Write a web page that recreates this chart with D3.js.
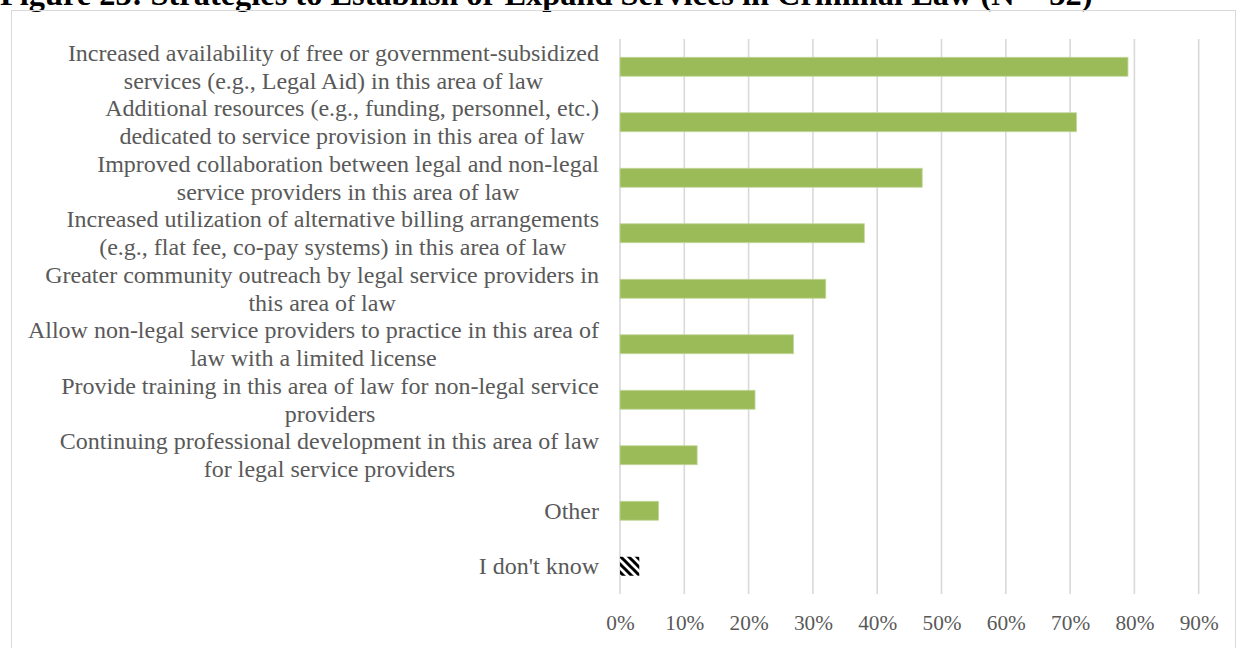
<!DOCTYPE html>
<html>
<head>
<meta charset="utf-8">
<script src="https://cdn.jsdelivr.net/npm/d3@7"></script>
<style>
  body { margin: 0; background: #fff; }
  svg { display: block; }
</style>
</head>
<body>
<svg id="chart" width="1237" height="648"></svg>
<script>
// Figure title and response categories (line breaks as wrapped in the figure)
const title = "Figure 23: Strategies to Establish or Expand Services in Criminal Law (N = 32)";
const categories = [
  "Increased availability of free or government-subsidized\nservices (e.g., Legal Aid) in this area of law",
  "Additional resources (e.g., funding, personnel, etc.)\ndedicated to service provision in this area of law",
  "Improved collaboration between legal and non-legal\nservice providers in this area of law",
  "Increased utilization of alternative billing arrangements\n(e.g., flat fee, co-pay systems) in this area of law",
  "Greater community outreach by legal service providers in\nthis area of law",
  "Allow non-legal service providers to practice in this area of\nlaw with a limited license",
  "Provide training in this area of law for non-legal service\nproviders",
  "Continuing professional development in this area of law\nfor legal service providers",
  "Other",
  "I don't know"
];
// Share of respondents selecting each strategy
const values = [0.79, 0.71, 0.47, 0.38, 0.32, 0.27, 0.21, 0.12, 0.06, 0.03];
// "I don't know" is drawn with a hatched fill
const hatched = ["I don't know"];
const tickValues = [0, 0.1, 0.2, 0.3, 0.4, 0.5, 0.6, 0.7, 0.8, 0.9];

const svg = d3.select("#chart");
const serif = "'Liberation Serif', 'Times New Roman', serif";
const textGray = "#595959";
const gridGray = "#d9d9d9";
const barGreen = "#9bbb59";

// Hatch pattern (wide downward diagonal)
const defs = svg.append("defs");
const pat = defs.append("pattern")
  .attr("id", "hatch")
  .attr("patternUnits", "userSpaceOnUse")
  .attr("width", 8).attr("height", 8);
pat.append("rect").attr("width", 8).attr("height", 8).attr("fill", "#fff");
pat.append("path")
  .attr("d", "M-2,6 l4,4 M-1,-1 l10,10 M6,-2 l4,4")
  .attr("stroke", "#000").attr("stroke-width", 3);

// Title (partly above the page top)
svg.append("text")
  .attr("x", 0).attr("y", 5)
  .attr("font-family", serif)
  .attr("font-weight", "bold")
  .attr("font-size", 32.4)
  .attr("fill", "#000")
  .text(title);

// Chart frame
svg.append("rect")
  .attr("x", 11.5).attr("y", 10.5)
  .attr("width", 1224).attr("height", 700)
  .attr("fill", "none")
  .attr("stroke", gridGray)
  .attr("stroke-width", 1);

const plotTop = 39, plotBottom = 594;
const x = d3.scaleLinear().domain([0, 0.9]).range([620, 1198.7]);
const y = d3.scaleBand()
  .domain(categories)
  .range([plotTop, plotBottom])
  .paddingInner(0.658)
  .paddingOuter(0.329);

// Vertical gridlines
svg.append("g")
  .selectAll("line")
  .data(tickValues)
  .join("line")
  .attr("x1", d => x(d)).attr("x2", d => x(d))
  .attr("y1", plotTop).attr("y2", plotBottom)
  .attr("stroke", gridGray)
  .attr("stroke-width", 1.6);

// Bars
svg.append("g")
  .selectAll("rect")
  .data(categories.map((c, i) => ({ c, v: values[i] })))
  .join("rect")
  .attr("x", x(0))
  .attr("y", d => y(d.c))
  .attr("width", d => x(d.v) - x(0))
  .attr("height", y.bandwidth())
  .attr("fill", d => hatched.includes(d.c) ? "url(#hatch)" : barGreen)
  .attr("stroke", d => hatched.includes(d.c) ? "none" : "#c4d79c")
  .attr("stroke-width", 0.8);

// Category labels: lines centred within a block right-aligned to the axis
const labelRight = 599;
const lineGap = 28;
const labelSize = 24;
const tickSize = 21.3;
const labels = svg.append("g")
  .attr("font-family", serif)
  .attr("font-size", labelSize)
  .attr("fill", textGray);

categories.forEach(c => {
  const lines = c.split("\n");
  const cy = y(c) + y.bandwidth() / 2;
  const t = labels.append("text").attr("text-anchor", "middle");
  lines.forEach((ln, i) => {
    t.append("tspan")
      .attr("y", cy + (i - (lines.length - 1) / 2) * lineGap + 8)
      .text(ln);
  });
  let maxW = 0;
  t.selectAll("tspan").each(function () {
    maxW = Math.max(maxW, this.getComputedTextLength());
  });
  t.selectAll("tspan").attr("x", labelRight - maxW / 2);
});

// Percentage axis
const axis = d3.axisBottom(x)
  .tickValues(tickValues)
  .tickFormat(d3.format(".0%"))
  .tickSize(0)
  .tickPadding(0);
const ax = svg.append("g")
  .attr("transform", `translate(0, ${plotBottom})`)
  .call(axis);
ax.select(".domain").remove();
ax.selectAll("text")
  .attr("font-family", serif)
  .attr("font-size", tickSize)
  .attr("fill", textGray)
  .attr("dy", null)
  .attr("y", 36);
</script>
</body>
</html>
